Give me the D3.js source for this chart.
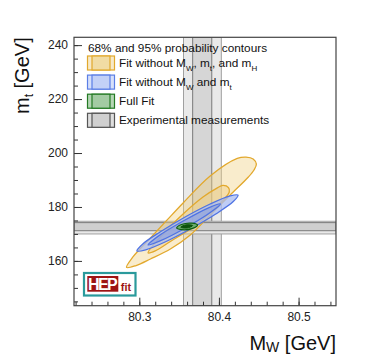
<!DOCTYPE html>
<html>
<head>
<meta charset="utf-8">
<script src="https://cdn.jsdelivr.net/npm/d3@7"></script>
<style>
  body { margin: 0; background: #fff; }
  svg { display: block; font-family: "Liberation Sans", Arial, sans-serif; }
</style>
</head>
<body>
<svg width="374" height="360"></svg>
<script>
// tick values
const mwTicks = [80.3, 80.4, 80.5]
const mtTicks = [160, 180, 200, 220, 240]

// experimental bands [low, high]
const mwBand68 = [80.367, 80.391]
const mwBand95 = [80.3555, 80.403]
const mtBand68 = [171.2, 174.2]
const mtBand95 = [170.0, 174.7]

// contours, [M_W, m_t] points
const yellow95 = [[80.284, 157.6], [80.292, 161.5], [80.314, 168.5], [80.335, 175.2], [80.355, 181.5],
  [80.389, 191.5], [80.423, 198.0], [80.434, 198.5], [80.443, 197.8], [80.447, 195.9], [80.444, 193.7],
  [80.437, 191.1], [80.414, 184.4], [80.389, 177.0], [80.364, 169.6], [80.339, 164.4], [80.314, 160.7],
  [80.296, 158.3]]
const yellow68 = [[80.311, 163.0], [80.330, 170.0], [80.355, 177.4], [80.380, 183.7], [80.397, 186.9],
  [80.405, 188.0], [80.412, 187.2], [80.413, 185.6], [80.407, 183.0], [80.393, 178.9], [80.368, 172.6],
  [80.340, 167.4], [80.320, 163.7]]
const blue95 = [[80.424, 184.4], [80.418, 182.0], [80.396, 177.4], [80.365, 172.0], [80.333, 167.1],
  [80.308, 164.1], [80.297, 163.7], [80.304, 166.2], [80.326, 170.7], [80.357, 176.2], [80.389, 181.1],
  [80.414, 184.1]]
const blue68 = [[80.402, 181.1], [80.390, 178.1], [80.359, 172.4], [80.326, 167.4], [80.311, 165.9],
  [80.323, 169.0], [80.354, 174.6], [80.387, 179.7]]
const green95 = [[80.373, 173.3], [80.367, 172.1], [80.353, 171.6], [80.347, 172.2], [80.353, 173.5], [80.366, 174.0]]
const green68 = [[80.367, 173.1], [80.360, 172.2], [80.352, 172.5], [80.359, 173.4]]

const svg = d3.select('svg')
const plot = { left: 74, right: 336, top: 37.3, bottom: 305.7 }

const x = d3.scaleLinear().domain([80.218, 80.547]).range([plot.left, plot.right])
const y = d3.scaleLinear().domain([143.4, 242.9]).range([plot.bottom, plot.top])

svg.append('defs').append('clipPath').attr('id', 'clip')
  .append('rect')
  .attr('x', plot.left).attr('y', plot.top)
  .attr('width', plot.right - plot.left).attr('height', plot.bottom - plot.top)

const g = svg.append('g').attr('clip-path', 'url(#clip)')

// experimental bands
const vBand = (band, fill, stroke) => {
  g.append('rect')
    .attr('x', x(band[0])).attr('width', x(band[1]) - x(band[0]))
    .attr('y', plot.top).attr('height', plot.bottom - plot.top)
    .attr('fill', fill).attr('stroke', stroke).attr('stroke-width', 1)
}
const hBand = (band, fill, stroke) => {
  g.append('rect')
    .attr('x', plot.left).attr('width', plot.right - plot.left)
    .attr('y', y(band[1])).attr('height', y(band[0]) - y(band[1]))
    .attr('fill', fill).attr('stroke', stroke).attr('stroke-width', 1)
}
vBand(mwBand95, '#e9e9e9', '#a0a0a0')
vBand(mwBand68, '#d6d6d6', '#7a7a7a')
hBand(mtBand95, '#e9e9e9', '#a0a0a0')
hBand(mtBand68, 'rgba(200,200,200,0.8)', '#7a7a7a')

// contours
const line = d3.line()
  .x((d) => x(d[0]))
  .y((d) => y(d[1]))
  .curve(d3.curveCatmullRomClosed.alpha(0.5))

const contour = (pts, fill, op, stroke, sw) => {
  g.append('path')
    .attr('d', line(pts))
    .attr('fill', fill).attr('fill-opacity', op)
    .attr('stroke', stroke).attr('stroke-width', sw)
}
contour(yellow95, '#f0cf80', 0.4, '#e2a82c', 1.3)
contour(yellow68, '#f0cf80', 0.45, '#e2a82c', 1.3)
contour(blue95, '#a9bcf2', 0.75, '#4f73e3', 1.3)
contour(blue68, '#7f95dd', 0.5, '#4f73e3', 1.3)
contour(green95, '#6fae6f', 1, '#0f5f0f', 1.3)
contour(green68, '#0c520c', 1, '#0c520c', 1)

// axes, ticks pointing inward
const axisStyle = (sel) => {
  sel.select('.domain').remove()
  sel.selectAll('line').attr('stroke', '#333')
  sel.selectAll('text').attr('font-size', 12).attr('fill', '#222')
    .attr('font-family', '"Liberation Sans", Arial, sans-serif')
}

svg.append('g')
  .attr('transform', `translate(0,${plot.bottom})`)
  .call(d3.axisBottom(x).tickValues(d3.range(80.22, 80.547, 0.02)).tickSize(-4).tickFormat(''))
  .call(axisStyle)
svg.append('g')
  .attr('transform', `translate(0,${plot.bottom})`)
  .call(d3.axisBottom(x).tickValues(mwTicks).tickSize(-8).tickPadding(7).tickFormat(d3.format('.1f')))
  .call(axisStyle)

svg.append('g')
  .attr('transform', `translate(${plot.left},0)`)
  .call(d3.axisLeft(y).tickValues(d3.range(145, 243, 5)).tickSize(-4).tickFormat(''))
  .call(axisStyle)
svg.append('g')
  .attr('transform', `translate(${plot.left},0)`)
  .call(d3.axisLeft(y).tickValues(mtTicks).tickSize(-8).tickPadding(6))
  .call(axisStyle)

// frame
svg.append('rect')
  .attr('x', plot.left).attr('y', plot.top)
  .attr('width', plot.right - plot.left).attr('height', plot.bottom - plot.top)
  .attr('fill', 'none').attr('stroke', '#444').attr('stroke-width', 1.2)

// axis titles
const yTitle = svg.append('text')
  .attr('transform', `translate(29,${plot.top}) rotate(-90)`)
  .attr('text-anchor', 'end')
  .attr('font-size', 20).attr('fill', '#111')
yTitle.append('tspan').text('m')
yTitle.append('tspan').attr('font-size', 12).attr('dy', 4).text('t')
yTitle.append('tspan').attr('dy', -4).text(' [GeV]')

const xTitle = svg.append('text')
  .attr('x', plot.right).attr('y', 350)
  .attr('text-anchor', 'end')
  .attr('font-size', 20).attr('fill', '#111')
xTitle.append('tspan').text('M')
xTitle.append('tspan').attr('font-size', 14).attr('dy', 2).text('W')
xTitle.append('tspan').attr('dy', -2).text(' [GeV]')

// legend
const legend = svg.append('g')
legend.append('text')
  .attr('x', 88).attr('y', 51.5)
  .attr('font-size', 11.8).attr('fill', '#111')
  .text('68% and 95% probability contours')

const legendItems = [
  { fill: '#f7e9c8', inner: '#f1dca4', stroke: '#e2a82c', parts: [['Fit without M'], ['W', 1], [', m'], ['t', 1], [', and m'], ['H', 1]] },
  { fill: '#d6e0fa', inner: '#c3d1f7', stroke: '#5a7ee6', parts: [['Fit without M'], ['W', 1], [' and m'], ['t', 1]] },
  { fill: '#b5d6b5', inner: '#a3cba3', stroke: '#237a23', parts: [['Full Fit']] },
  { fill: '#dedede', inner: '#d0d0d0', stroke: '#555', parts: [['Experimental measurements']] }
]

legendItems.forEach((item, i) => {
  const top = 56 + i * 19.1
  legend.append('rect')
    .attr('x', 87.5).attr('y', top).attr('width', 27).attr('height', 14)
    .attr('fill', item.fill).attr('stroke', item.stroke).attr('stroke-width', 1.2)
  legend.append('rect')
    .attr('x', 92).attr('y', top).attr('width', 18).attr('height', 14)
    .attr('fill', item.inner).attr('stroke', item.stroke).attr('stroke-width', 1.2)
  const t = legend.append('text')
    .attr('x', 119).attr('y', top + 11)
    .attr('font-size', 11.8).attr('fill', '#111')
  let low = false
  item.parts.forEach(([s, sub]) => {
    const sp = t.append('tspan').text(s)
    if (sub && !low) { sp.attr('font-size', 8).attr('dy', 3.5); low = true }
    else if (!sub && low) { sp.attr('dy', -3.5); low = false }
    else if (sub) sp.attr('font-size', 8)
  })
})

// HEPfit logo
const logo = svg.append('g')
logo.append('rect')
  .attr('x', 84).attr('y', 273).attr('width', 51.5).attr('height', 22.5)
  .attr('fill', '#fff').attr('stroke', '#2a9a9c').attr('stroke-width', 2.2)
logo.append('rect')
  .attr('x', 87.3).attr('y', 276).attr('width', 31).attr('height', 15.7)
  .attr('fill', '#9e1414')
logo.append('text')
  .attr('x', 102.8).attr('y', 289.8).attr('text-anchor', 'middle')
  .attr('font-size', 16).attr('font-weight', 'bold').attr('fill', '#fff')
  .attr('textLength', 29.5)
  .text('HEP')
logo.append('text')
  .attr('x', 126).attr('y', 291).attr('text-anchor', 'middle')
  .attr('font-size', 11).attr('font-weight', 'bold').attr('fill', '#9e1414')
  .text('fit')
</script>
</body>
</html>
